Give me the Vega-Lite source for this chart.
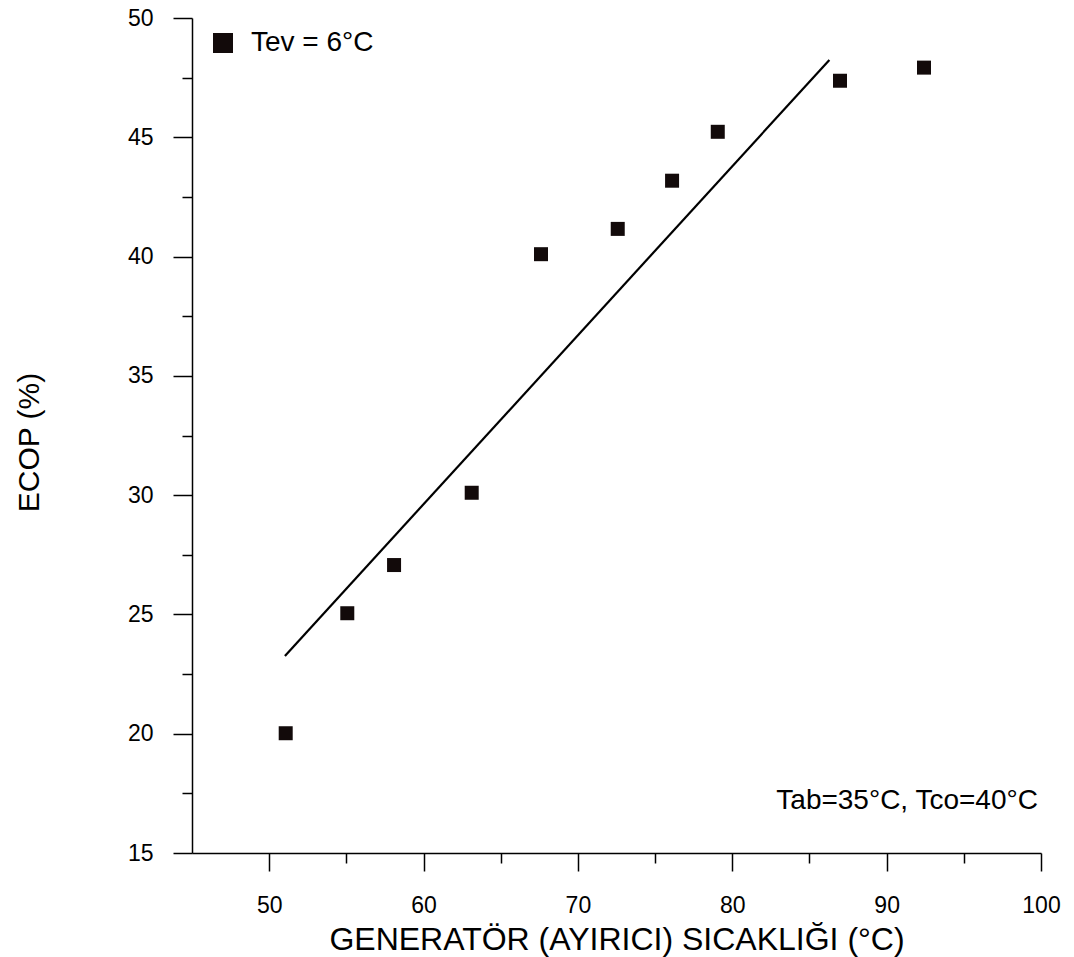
{
  "$schema": "https://vega.github.io/schema/vega-lite/v6.json",
  "width": 849,
  "height": 835,
  "autosize": "none",
  "padding": {"left": 192, "top": 18, "right": 33, "bottom": 104},
  "background": "white",
  "config": {
    "view": {"stroke": null},
    "font": "Liberation Sans",
    "axis": {"grid": false, "domainColor": "black", "tickColor": "black", "labelColor": "black", "titleColor": "black", "domainWidth": 1.5, "tickWidth": 1.5, "labelFont": "Liberation Sans", "titleFont": "Liberation Sans", "titleFontWeight": "normal"}
  },
  "datasets": {
    "pts": [
      {"t": 51.07, "ecop": 20.02, "s": "Tev = 6°C"},
      {"t": 55.06, "ecop": 25.05, "s": "Tev = 6°C"},
      {"t": 58.09, "ecop": 27.07, "s": "Tev = 6°C"},
      {"t": 63.12, "ecop": 30.10, "s": "Tev = 6°C"},
      {"t": 67.61, "ecop": 40.10, "s": "Tev = 6°C"},
      {"t": 72.58, "ecop": 41.16, "s": "Tev = 6°C"},
      {"t": 76.10, "ecop": 43.18, "s": "Tev = 6°C"},
      {"t": 79.06, "ecop": 45.23, "s": "Tev = 6°C"},
      {"t": 86.98, "ecop": 47.37, "s": "Tev = 6°C"},
      {"t": 92.42, "ecop": 47.92, "s": "Tev = 6°C"}
    ],
    "fit": [
      {"t": 51.02, "ecop": 23.26},
      {"t": 86.29, "ecop": 48.24}
    ]
  },
  "layer": [
    {
      "data": {"name": "fit"},
      "mark": {"type": "line", "color": "black", "strokeWidth": 2.2},
      "encoding": {
        "x": {"field": "t", "type": "quantitative", "scale": {"domain": [45, 100], "nice": false, "zero": false},
          "axis": {"orient": "bottom", "values": [55, 65, 75, 85, 95], "labels": false, "tickSize": 10, "domain": false, "title": null}},
        "y": {"field": "ecop", "type": "quantitative", "scale": {"domain": [15, 50], "nice": false, "zero": false},
          "axis": {"orient": "left", "values": [17.5, 22.5, 27.5, 32.5, 37.5, 42.5, 47.5], "labels": false, "tickSize": 10, "domain": false, "title": null}}
      }
    },
    {
      "data": {"name": "pts"},
      "mark": {"type": "point", "shape": "square", "filled": true, "size": 196, "opacity": 1},
      "encoding": {
        "x": {"field": "t", "type": "quantitative", "scale": {"domain": [45, 100], "nice": false, "zero": false},
          "axis": {"orient": "bottom", "values": [50, 60, 70, 80, 90, 100], "tickSize": 18, "labelFontSize": 23, "labelPadding": 23, "title": "GENERATÖR (AYIRICI) SICAKLIĞI (°C)", "titleFontSize": 32, "titleBaseline": "alphabetic", "titleY": 96, "labelFlush": false}},
        "y": {"field": "ecop", "type": "quantitative", "scale": {"domain": [15, 50], "nice": false, "zero": false},
          "axis": {"orient": "left", "values": [15, 20, 25, 30, 35, 40, 45, 50], "tickSize": 19, "labelFontSize": 23, "labelPadding": 20, "title": "ECOP (%)", "titleFontSize": 30, "titleX": -148, "titleY": 424, "labelFlush": false}},
        "color": {"field": "s", "type": "nominal", "scale": {"range": ["#120a0a"]},
          "legend": {"title": null, "orient": "none", "legendX": 17, "legendY": 11, "symbolType": "square", "symbolSize": 400, "symbolFillColor": "#120a0a", "symbolStrokeWidth": 0, "labelFontSize": 28, "labelColor": "black", "labelFont": "Liberation Sans", "labelOffset": 14, "padding": 0}}
      }
    },
    {
      "data": {"values": [{"note": "Tab=35°C, Tco=40°C"}]},
      "mark": {"type": "text", "align": "right", "baseline": "middle", "fontSize": 28, "color": "black", "font": "Liberation Sans"},
      "encoding": {
        "x": {"datum": 99.8, "type": "quantitative", "axis": null},
        "y": {"datum": 17.2, "type": "quantitative", "axis": null},
        "text": {"field": "note"}
      }
    }
  ],
  "resolve": {"axis": {"x": "independent", "y": "independent"}}
}
